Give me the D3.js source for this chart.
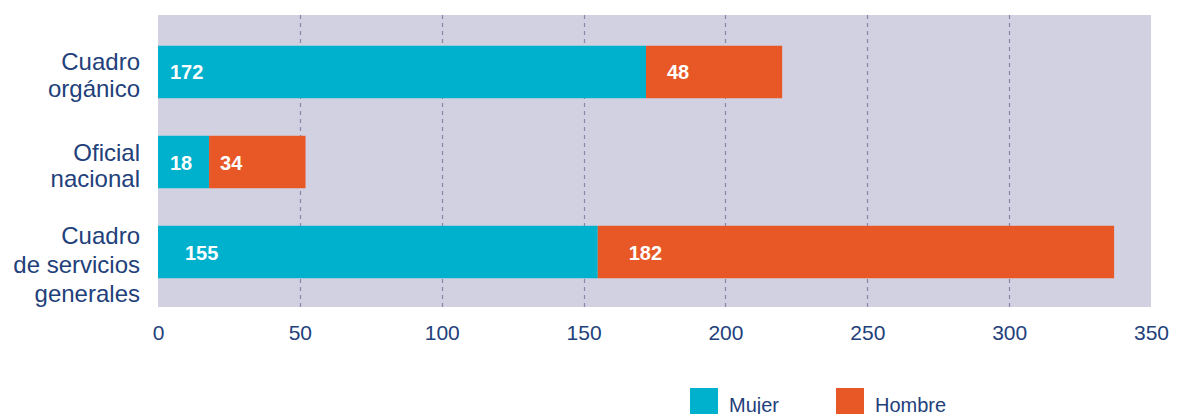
<!DOCTYPE html>
<html><head><meta charset="utf-8">
<script src="https://cdn.jsdelivr.net/npm/d3@7/dist/d3.min.js"></script>
<style>
html,body{margin:0;padding:0;background:#fff;}
svg{display:block;font-family:"Liberation Sans",Arial,Helvetica,sans-serif;}
</style></head>
<body><svg id="c" width="1177" height="414"></svg>
<script>
const categories = [["Cuadro","orgánico"],["Oficial","nacional"],["Cuadro","de servicios","generales"]];
const mujer = [172, 18, 155];
const hombre = [48, 34, 182];
const seriesNames = ["Mujer", "Hombre"];
const tickValues = [0, 50, 100, 150, 200, 250, 300, 350];

const colors = {mujer:"#00b1cd", hombre:"#e85726", bg:"#d2d1e2", grid:"#8886a8", text:"#22407a"};
const labelInsetMujer = [12, 12, 27];
const labelInsetHombre = [21, 11, 31];

const svg = d3.select("#c");
const x = d3.scaleLinear().domain([0, 350]).range([158, 1151]);
const y = d3.scaleBand().domain(d3.range(categories.length)).range([45.75, 278.25]).paddingInner(0.417).paddingOuter(0);

svg.append("rect").attr("x", x(0)).attr("y", 15).attr("width", x(350) - x(0)).attr("height", 292).attr("fill", colors.bg);

svg.append("g").selectAll("line").data(tickValues.filter(d => d > 0 && d < 350)).join("line")
  .attr("x1", d => Math.round(x(d)) + 0.5).attr("x2", d => Math.round(x(d)) + 0.5)
  .attr("y1", 15).attr("y2", 307)
  .attr("stroke", colors.grid).attr("stroke-width", 1.2).attr("stroke-dasharray", "4,4");

const rows = d3.range(categories.length);
svg.append("g").selectAll("rect").data(rows).join("rect")
  .attr("x", i => x(0)).attr("y", i => y(i)).attr("width", i => x(mujer[i]) - x(0)).attr("height", y.bandwidth())
  .attr("fill", colors.mujer);
svg.append("g").selectAll("rect").data(rows).join("rect")
  .attr("x", i => x(mujer[i])).attr("y", i => y(i)).attr("width", i => x(mujer[i] + hombre[i]) - x(mujer[i])).attr("height", y.bandwidth())
  .attr("fill", colors.hombre);

const vl = svg.append("g").attr("fill", "#fff").attr("font-weight", "bold").attr("font-size", "20px");
rows.forEach(i => {
  const cy = y(i) + y.bandwidth() / 2;
  vl.append("text").attr("x", x(0) + labelInsetMujer[i]).attr("y", cy + 7.5).text(mujer[i]);
  vl.append("text").attr("x", x(mujer[i]) + labelInsetHombre[i]).attr("y", cy + 7.5).text(hombre[i]);
});

// category labels
const cl = svg.append("g").attr("fill", colors.text).attr("font-size", "24px").attr("text-anchor", "end");
rows.forEach(i => {
  const lines = categories[i];
  const cy = y(i) + y.bandwidth() / 2;
  const lh = lines.length === 3 ? 29 : 26.6;
  const first = cy - 1.5 - (lines.length - 2) * 6.5;
  lines.forEach((t, k) => {
    cl.append("text").attr("x", 140).attr("y", first + k * lh).text(t);
  });
});

// x axis
const ax = svg.append("g").attr("transform", "translate(0,315)")
  .call(d3.axisBottom(x).tickValues(tickValues).tickSize(0).tickPadding(0));
ax.select(".domain").remove();
ax.selectAll("text").attr("fill", colors.text).attr("font-size", "21px")
  .attr("font-family", "Liberation Sans, Arial, sans-serif").attr("dy", "25px");

// legend
const legX = [690, 836];
const lg = svg.append("g");
seriesNames.forEach((n, k) => {
  lg.append("rect").attr("x", legX[k]).attr("y", 388).attr("width", 28).attr("height", 30)
    .attr("fill", k === 0 ? colors.mujer : colors.hombre);
  lg.append("text").attr("x", legX[k] + 39).attr("y", 412).attr("fill", colors.text)
    .attr("font-size", "20px").text(n);
});
</script></body></html>
